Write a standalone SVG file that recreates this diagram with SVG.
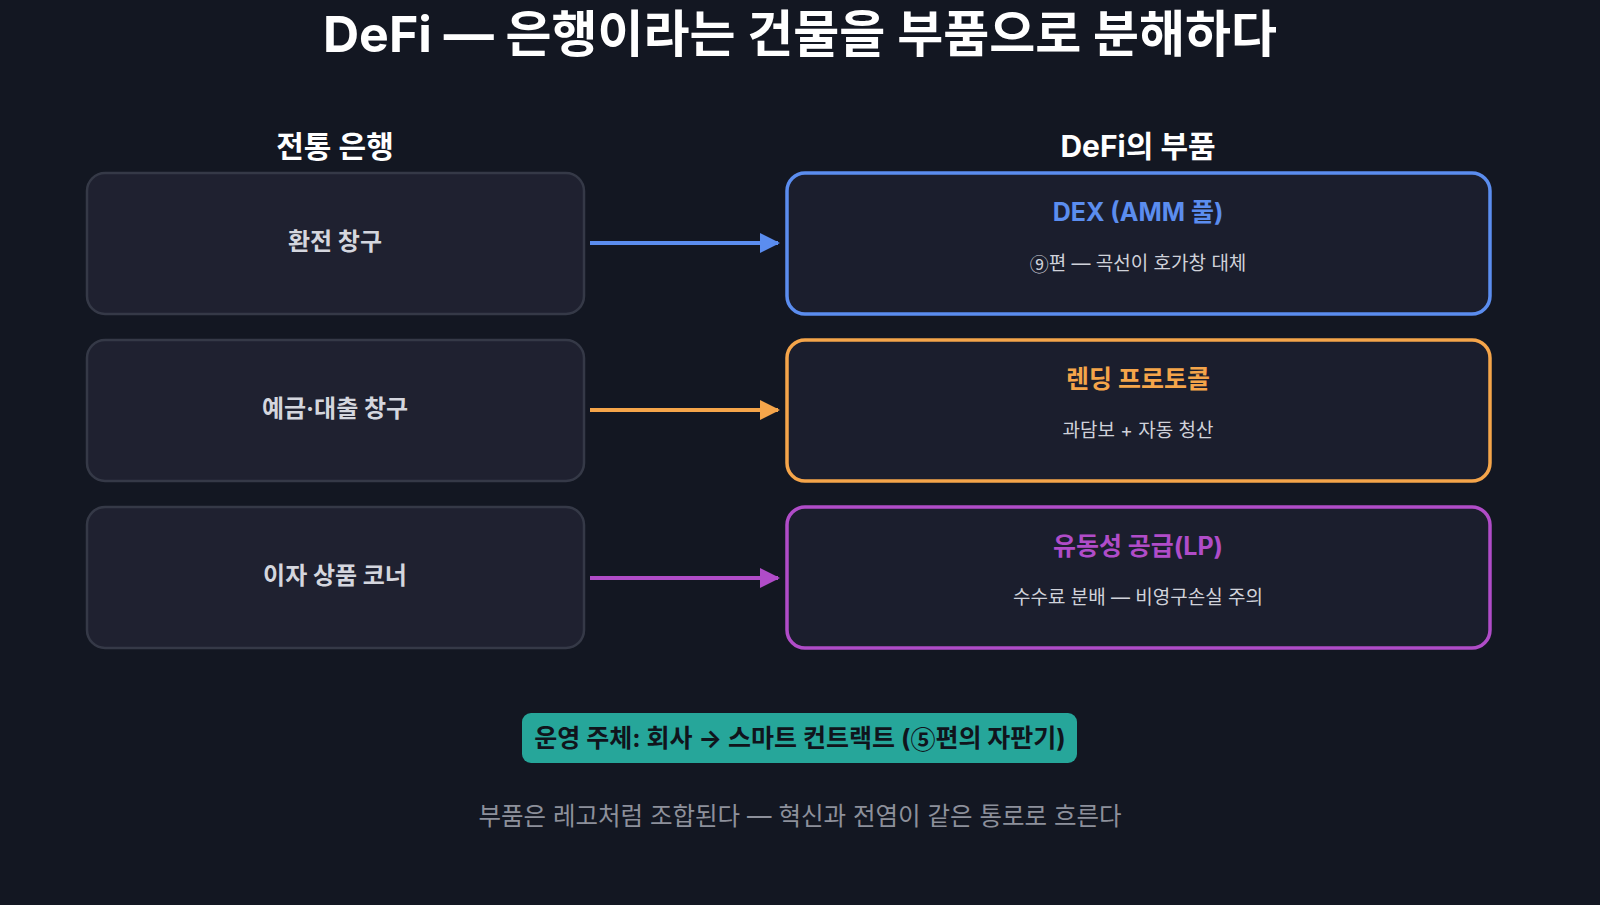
<svg xmlns="http://www.w3.org/2000/svg" width="1600" height="905" viewBox="0 0 1600 905">
<defs>
<style>
text{font-family:Inter,"Noto Sans CJK KR",sans-serif;text-anchor:middle;dominant-baseline:central}
.c{font-family:"Noto Sans CJK KR",sans-serif}
.l{fill:#1f2130;stroke:#353947;stroke-width:2.5}
.lt{fill:#d4d6de;font-size:24px;font-weight:700}
.r{fill:#1b1e2d;stroke-width:3.5}
.rt{font-size:25px;font-weight:700}
.rs{fill:#d0d2da;font-size:19px}
.h{fill:#fff;font-size:30px;font-weight:700}
</style>
<marker id="mb" viewBox="0 0 10 10" refX="9" refY="5" markerWidth="5" markerHeight="5" orient="auto"><path d="M0,0L10,5L0,10z" fill="#5b8def"/></marker>
<marker id="mo" viewBox="0 0 10 10" refX="9" refY="5" markerWidth="5" markerHeight="5" orient="auto"><path d="M0,0L10,5L0,10z" fill="#f5a54a"/></marker>
<marker id="mp" viewBox="0 0 10 10" refX="9" refY="5" markerWidth="5" markerHeight="5" orient="auto"><path d="M0,0L10,5L0,10z" fill="#b04cc8"/></marker>
</defs>
<rect width="1600" height="905" fill="#131722"/>
<text x="800" y="34" fill="#fff" font-size="50" font-weight="700">DeFi — 은행이라는 건물을 부품으로 분해하다</text>
<text class="h" x="335" y="146">전통 은행</text>
<text class="h" x="1138" y="146">DeFi의 부품</text>
<g id="bank1"><rect class="l" x="87" y="173" width="497" height="141" rx="18"/><text class="lt" x="335" y="241">환전 창구</text></g>
<g id="bank2"><rect class="l" x="87" y="340" width="497" height="141" rx="18"/><text class="lt" x="335" y="408">예금·대출 창구</text></g>
<g id="bank3"><rect class="l" x="87" y="507" width="497" height="141" rx="18"/><text class="lt" x="335" y="575">이자 상품 코너</text></g>
<g id="dex"><rect class="r" stroke="#5b8def" x="787" y="173" width="703" height="141" rx="18"/><text class="rt" fill="#5b8def" x="1138" y="212">DEX (AMM 풀)</text><text class="rs" x="1138" y="263"><tspan class="c">⑨</tspan>편 — 곡선이 호가창 대체</text></g>
<g id="lending"><rect class="r" stroke="#f5a54a" x="787" y="340" width="703" height="141" rx="18"/><text class="rt" fill="#f5a54a" x="1138" y="379">렌딩 프로토콜</text><text class="rs" x="1138" y="430">과담보 + 자동 청산</text></g>
<g id="lp"><rect class="r" stroke="#b04cc8" x="787" y="507" width="703" height="141" rx="18"/><text class="rt" fill="#b04cc8" x="1138" y="546">유동성 공급(LP)</text><text class="rs" x="1138" y="597">수수료 분배 — 비영구손실 주의</text></g>
<g id="connectors" stroke-width="4" fill="none">
<line x1="590" y1="243" x2="778" y2="243" stroke="#5b8def" marker-end="url(#mb)"/>
<line x1="590" y1="410" x2="778" y2="410" stroke="#f5a54a" marker-end="url(#mo)"/>
<line x1="590" y1="578" x2="778" y2="578" stroke="#b04cc8" marker-end="url(#mp)"/>
</g>
<g id="operator"><rect x="522" y="713" width="555" height="50" rx="9" fill="#26a69a"/><text x="800" y="738" fill="#10141c" font-size="25" font-weight="700">운영 주체: 회사 → 스마트 컨트랙트 (<tspan class="c">⑤</tspan>편의 자판기)</text></g>
<text x="800" y="816" fill="#8d909b" font-size="24.5">부품은 레고처럼 조합된다 — 혁신과 전염이 같은 통로로 흐른다</text>
</svg>
